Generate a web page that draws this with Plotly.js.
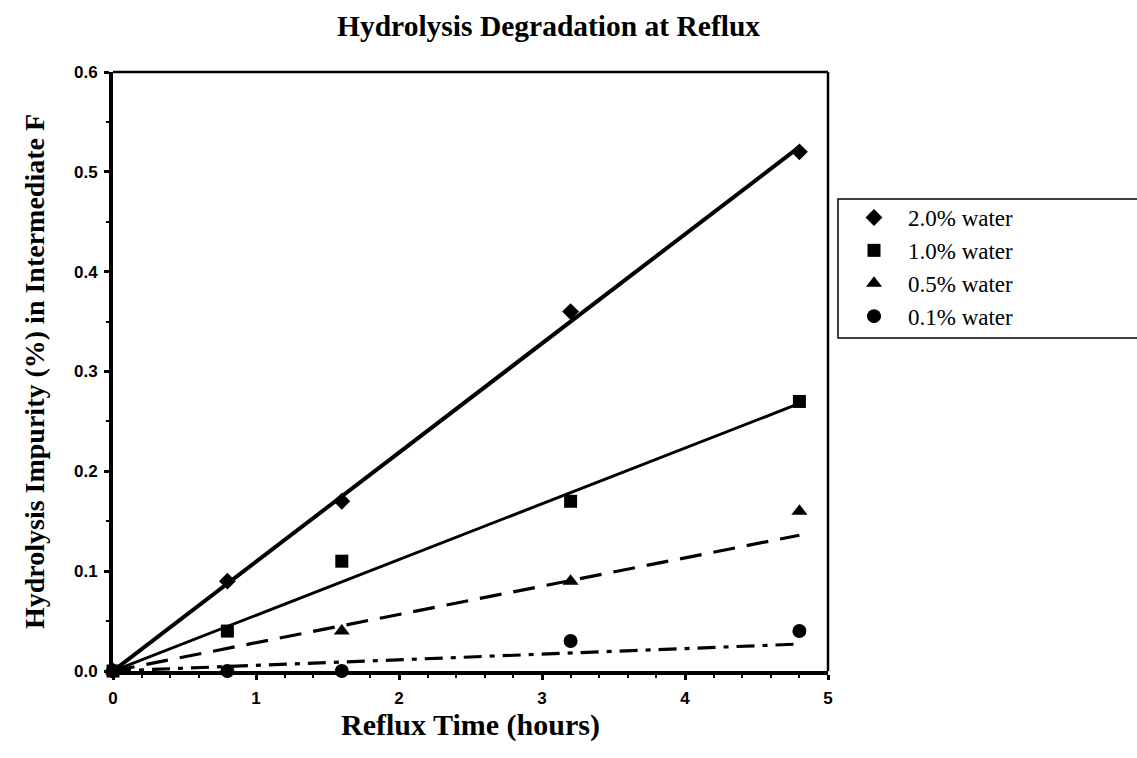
<!DOCTYPE html>
<html>
<head>
<meta charset="utf-8">
<script src="https://cdn.plot.ly/plotly-3.0.1.min.js"></script>
<style>html,body{margin:0;padding:0;background:#fff;}#chart{width:1137px;height:758px;}</style>
</head>
<body>
<div id="chart"></div>
<script>
// Reflux time (hours)
var timeHours = [0, 0.8, 1.6, 3.2, 4.8];
// Hydrolysis impurity (%) by water content
var water20 = [0, 0.09, 0.17, 0.36, 0.52];
var water10 = [0, 0.04, 0.11, 0.17, 0.27];
var water05 = [0, 0.00, 0.04, 0.09, 0.16];
var water01 = [0, 0.00, 0.00, 0.03, 0.04];
// Linear trend lines (endpoints)
var fitX = [0, 4.8];
var fit20 = [0, 0.525];
var fit10 = [0, 0.268];
var fit05 = [0, 0.136];
var fit01 = [0, 0.027];
var seriesNames = ['2.0% water', '1.0% water', '0.5% water', '0.1% water'];
// Tick labels
var xTickVals = [0, 1, 2, 3, 4, 5];
var xTickText = ['0', '1', '2', '3', '4', '5'];
var yTickVals = [0, 0.1, 0.2, 0.3, 0.4, 0.5, 0.6];
var yTickText = ['0.0', '0.1', '0.2', '0.3', '0.4', '0.5', '0.6'];

var serif = 'Liberation Serif, Times New Roman, serif';
var sans = 'Liberation Sans, Arial, sans-serif';

function pts(y, name, symbol, size, grp) {
  return {x: timeHours, y: y, name: name, mode: 'markers', type: 'scatter',
    legendgroup: grp, cliponaxis: false,
    marker: {symbol: symbol, size: size, color: '#000'}};
}
function fit(y, width, dash) {
  return {x: fitX, y: y, mode: 'lines', type: 'scatter', showlegend: false,
    hoverinfo: 'skip', cliponaxis: true,
    line: {color: '#000', width: width, dash: dash}};
}
function bold(arr) { return arr.map(function (s) { return '<b>' + s + '</b>'; }); }

var data = [
  fit(fit20, 4, 'solid'),
  fit(fit10, 3, 'solid'),
  fit(fit05, 3.2, '22px,12px'),
  fit(fit01, 3.2, '18px,8px,5px,8px'),
  pts(water20, seriesNames[0], 'diamond', 13, 'a'),
  pts(water10, seriesNames[1], 'square', 13, 'b'),
  pts(water05, seriesNames[2], 'triangle-up', 14, 'c'),
  pts(water01, seriesNames[3], 'circle', 14, 'd')
];

var legTop = (671 - 199) / 599;
var legBot = (671 - 338) / 599;
var legLeft = (838 - 113) / 715;

var layout = {
  width: 1137, height: 758,
  margin: {l: 113, r: 309, t: 72, b: 87, pad: 0},
  paper_bgcolor: '#fff', plot_bgcolor: '#fff',
  showlegend: true,
  title: {text: '<b>Hydrolysis Degradation at Reflux</b>', font: {family: serif, size: 29.5, color: '#000'},
    x: 337/1137, xanchor: 'left', xref: 'container', y: 1 - 26/758, yanchor: 'middle', yref: 'container'},
  xaxis: {range: [0, 5], tickmode: 'array', tickvals: xTickVals, ticktext: bold(xTickText),
    showgrid: false, zeroline: false,
    showline: true, linewidth: 4, linecolor: '#000', layer: 'below traces',
    ticks: 'outside', ticklen: 5, tickwidth: 3, tickcolor: '#000',
    ticklabelstandoff: 4,
    tickfont: {family: 'Liberation Sans', size: 17, color: '#000'},
    minor: {dtick: 0.2, tick0: 0, ticks: 'outside', ticklen: 3, tickwidth: 2, tickcolor: '#000', showgrid: false},
    title: {text: '<b>Reflux Time (hours)</b>', font: {family: serif, size: 30, color: '#000'}, standoff: 5}},
  yaxis: {range: [0, 0.6], tickmode: 'array', tickvals: yTickVals, ticktext: bold(yTickText),
    showgrid: false, zeroline: false,
    showline: true, linewidth: 4, linecolor: '#000', layer: 'below traces',
    ticks: 'outside', ticklen: 5, tickwidth: 3, tickcolor: '#000',
    ticklabelstandoff: 3,
    tickfont: {family: 'Liberation Sans', size: 17, color: '#000'},
    minor: {dtick: 0.05, tick0: 0, ticks: 'outside', ticklen: 3, tickwidth: 2, tickcolor: '#000', showgrid: false},
    title: {text: '<b>Hydrolysis Impurity (%) in Intermediate F</b>', font: {family: serif, size: 28, color: '#000'}, standoff: 22}},
  legend: {x: legLeft, xanchor: 'left', y: (671 - 196) / 599, yanchor: 'top',
    bgcolor: 'rgba(0,0,0,0)', borderwidth: 0,
    font: {family: serif, size: 23, color: '#000'},
    tracegroupgap: 0, itemwidth: 58, indentation: 2},
  shapes: [
    {type: 'line', xref: 'paper', yref: 'paper', x0: 0, x1: 1, y0: 1, y1: 1, line: {color: '#000', width: 2.5}},
    {type: 'line', xref: 'paper', yref: 'paper', x0: 1, x1: 1, y0: 0, y1: 1, line: {color: '#000', width: 2.5}},
    {type: 'rect', xref: 'paper', yref: 'paper', x0: legLeft, x1: 1.6, y0: legBot, y1: legTop,
      line: {color: '#000', width: 1.5}, fillcolor: 'rgba(0,0,0,0)', layer: 'below'}
  ]
};

Plotly.newPlot('chart', data, layout, {displayModeBar: false, staticPlot: true});
</script>
</body>
</html>
